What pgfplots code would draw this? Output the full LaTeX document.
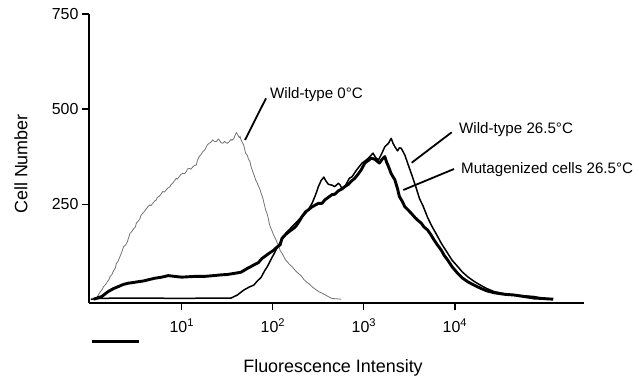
\documentclass[border=0pt]{standalone}
\usepackage{pgfplots}
\pgfplotsset{compat=1.18}
\usepackage{pgfplotstable}
\usepackage{fontspec}
\setmainfont{Liberation Sans}

% x = log10(fluorescence intensity), y = cell number
\pgfplotstableread{
lx val
0.06 0
0.08 10
0.10 18
0.12 24
0.14 33
0.16 38
0.18 45
0.20 52
0.21 59
0.23 64
0.25 75
0.27 82
0.28 94
0.30 100
0.32 112
0.34 124
0.36 138
0.38 142
0.40 150
0.42 165
0.43 173
0.45 178
0.47 185
0.49 190
0.50 200
0.52 205
0.54 212
0.55 220
0.57 226
0.59 231
0.61 238
0.63 244
0.65 248
0.66 246
0.68 252
0.70 258
0.72 261
0.73 268
0.75 270
0.77 276
0.79 283
0.81 282
0.83 288
0.85 293
0.87 296
0.88 301
0.90 305
0.92 312
0.94 318
0.95 316
0.97 322
0.99 328
1.01 331
1.03 330
1.05 336
1.06 342
1.08 344
1.10 342
1.12 348
1.14 352
1.16 353
1.17 365
1.19 375
1.21 380
1.23 388
1.25 392
1.27 401
1.28 406
1.30 410
1.32 413
1.34 419
1.36 414
1.38 415
1.40 421
1.41 419
1.43 412
1.45 410
1.47 415
1.48 412
1.50 410
1.52 414
1.54 420
1.55 418
1.57 422
1.58 428
1.59 434
1.60 438
1.62 430
1.63 425
1.64 428
1.65 419
1.67 410
1.68 405
1.69 395
1.70 384
1.72 378
1.73 370
1.75 360
1.76 349
1.77 342
1.78 335
1.80 322
1.81 314
1.83 305
1.84 298
1.86 288
1.87 279
1.89 266
1.90 255
1.91 246
1.92 235
1.94 222
1.95 212
1.96 200
1.97 191
1.99 180
2.01 168
2.03 158
2.05 147
2.07 136
2.08 128
2.10 121
2.12 112
2.14 103
2.16 98
2.18 92
2.21 86
2.23 80
2.26 72
2.29 66
2.32 59
2.34 52
2.37 45
2.40 40
2.43 33
2.45 29
2.48 24
2.51 19
2.54 16
2.57 12
2.60 8
2.63 4
2.65 2
2.75 0
}\wtcold

\pgfplotstableread{
lx val
0.00 0
0.10 2
0.30 3
0.60 3
1.00 2
1.30 3
1.54 3
1.61 11
1.68 24
1.74 32
1.79 37
1.83 48
1.87 57
1.91 75
1.94 86
1.98 105
2.01 118
2.04 132
2.07 145
2.11 160
2.14 173
2.20 188
2.25 200
2.30 213
2.36 226
2.40 240
2.43 252
2.47 275
2.50 296
2.53 312
2.56 321
2.58 312
2.61 302
2.65 300
2.68 296
2.72 305
2.74 300
2.76 290
2.80 300
2.84 318
2.87 322
2.92 340
2.98 358
3.02 365
3.05 371
3.10 384
3.13 372
3.16 366
3.20 385
3.23 401
3.27 410
3.30 423
3.32 410
3.34 401
3.37 390
3.39 398
3.41 397
3.45 379
3.48 358
3.52 331
3.57 296
3.61 265
3.65 245
3.70 215
3.74 195
3.77 182
3.81 165
3.85 147
3.92 121
3.97 102
4.03 86
4.08 72
4.14 59
4.21 47
4.28 37
4.35 28
4.43 20
4.55 14
4.65 11
4.76 9
4.87 7
4.95 3
5.01 0
}\wtwarm

\pgfplotstableread{
lx val
0.03 0
0.12 7
0.19 20
0.25 28
0.30 33
0.36 39
0.41 42
0.47 44
0.52 46
0.58 48
0.63 51
0.70 55
0.78 58
0.85 62
0.92 60
1.00 58
1.07 59
1.15 60
1.25 60
1.35 62
1.43 64
1.50 65
1.58 68
1.65 71
1.72 81
1.76 86
1.79 90
1.84 96
1.88 107
1.92 114
1.96 121
2.01 129
2.05 138
2.08 143
2.10 160
2.14 170
2.18 178
2.22 185
2.25 191
2.29 205
2.32 217
2.36 230
2.39 235
2.43 243
2.47 248
2.50 252
2.54 252
2.57 261
2.61 268
2.65 275
2.68 276
2.72 285
2.76 290
2.79 296
2.83 302
2.86 310
2.90 318
2.94 330
2.97 340
3.01 358
3.05 365
3.08 371
3.12 368
3.17 358
3.20 368
3.23 375
3.25 360
3.27 349
3.30 330
3.34 314
3.37 290
3.39 270
3.42 258
3.45 243
3.48 236
3.52 226
3.56 215
3.59 208
3.63 200
3.66 190
3.70 182
3.74 168
3.77 156
3.81 142
3.85 129
3.88 116
3.92 103
3.97 85
4.03 68
4.08 56
4.14 46
4.21 37
4.28 29
4.35 22
4.43 17
4.54 13
4.65 11
4.76 7
4.87 3
4.95 2
5.08 0
}\mutant

\begin{document}
\begin{tikzpicture}
\useasboundingbox (-89bp,-76bp) rectangle (550bp,303bp);
\begin{axis}[
  scale only axis,
  width=495bp, height=289bp,
  xmin=-0.02, xmax=5.418,
  ymin=-10, ymax=750,
  axis x line=bottom, axis y line=left,
  axis line style={line width=2.4bp,-},
  tick align=outside,
  major tick length=7bp,
  every tick/.style={black, line width=1.2bp},
  xtick={1,2,3,4},
  xticklabels={10\textsuperscript{1},10\textsuperscript{2},10\textsuperscript{3},10\textsuperscript{4}},
  ytick={250,500,750},
  yticklabels={250,500,750},
  tick label style={font=\fontsize{16}{18}\selectfont},
  xticklabel style={yshift=-5bp},
  label style={font=\fontsize{18}{21}\selectfont},
  xlabel={Fluorescence Intensity},
  ylabel={Cell Number},
  xlabel style={at={(axis description cs:0.493,-0.225)}, anchor=center},
  ylabel style={at={(axis description cs:-0.1374,0.481)}, anchor=center},
  clip=false,
]
\addplot[black!55, line width=0.8bp] table[x=lx, y=val] {\wtcold};
\addplot[black, line width=1.5bp, line join=round] table[x=lx, y=val] {\wtwarm};
\addplot[black, line width=2.9bp, line join=round] table[x=lx, y=val] {\mutant};
\end{axis}
% gate marker below the axis
\draw[line width=2.5bp] (2.7bp,-38.7bp) -- (50bp,-38.7bp);
% annotations
\begin{scope}[line width=1.8bp]
\draw (177bp,204.7bp) -- (156bp,163bp);
\draw (362.7bp,170.7bp) -- (322.7bp,140.3bp);
\draw (365bp,134bp) -- (314.3bp,113bp);
\end{scope}
\begin{scope}[font=\fontsize{15.2}{18}\selectfont, inner sep=0pt]
\node[anchor=west] at (181bp,208bp) {Wild-type 0°C};
\node[anchor=west] at (370bp,173bp) {Wild-type 26.5°C};
\node[anchor=west] at (372bp,133bp) {Mutagenized cells 26.5°C};
\end{scope}
\end{tikzpicture}
\end{document}
